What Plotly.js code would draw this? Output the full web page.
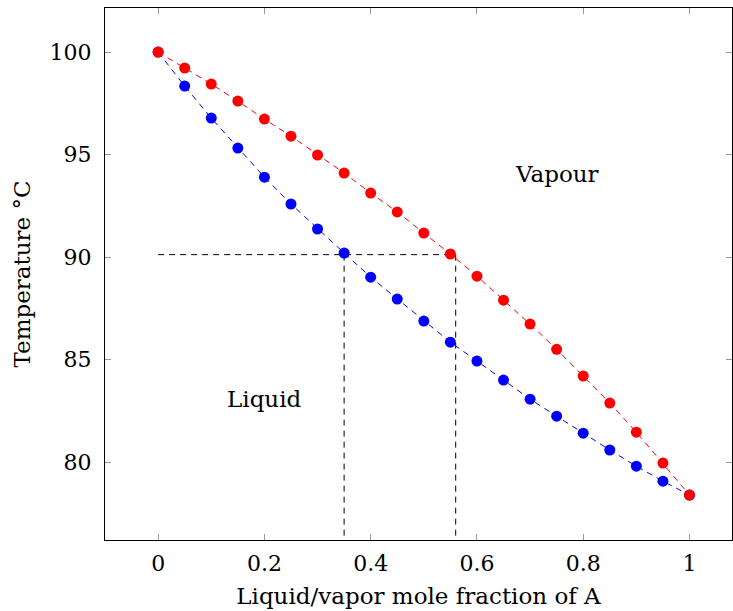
<!DOCTYPE html>
<html><head><meta charset="utf-8">
<script src="https://cdn.plot.ly/plotly-3.0.1.min.js"></script>
<style>html,body{margin:0;padding:0;background:#fff}#chart{width:733px;height:611px}</style>
</head><body><div id="chart"></div>
<script>
const moleFraction = [0,0.05,0.1,0.15,0.2,0.25,0.3,0.35,0.4,0.45,0.5,0.55,0.6,0.65,0.7,0.75,0.8,0.85,0.9,0.95,1.0];
const liquidTemp = [100,98.34,96.78,95.32,93.9,92.59,91.37,90.2,89.02,87.95,86.88,85.85,84.93,84.0,83.07,82.24,81.41,80.59,79.8,79.07,78.39];
const vapourTemp = [100,99.22,98.44,97.61,96.73,95.9,94.98,94.1,93.12,92.2,91.17,90.15,89.07,87.9,86.73,85.5,84.2,82.88,81.46,79.95,78.39];
const tieX = [0, 0.56];
const tieY = [90.12, 90.12];
const liqLineX = [0.35, 0.35];
const vapLineX = [0.56, 0.56];
const dropY = [90.12, 76.2];
const labels = [{text:'Vapour', x:0.75, y:94.05},{text:'Liquid', x:0.2, y:83.07}];
const xTicks = [0,0.2,0.4,0.6,0.8,1];
const xTickText = ['0','0.2','0.4','0.6','0.8','1'];
const yTicks = [80,85,90,95,100];

const FONT = 'DejaVu Serif, serif';
const FS = 22;
const FT = 23;
const dash = {color:'#000', width:1, dash:'6px,5px'};
const traces = [
  {x:tieX, y:tieY, mode:'lines', line:dash, hoverinfo:'skip'},
  {x:liqLineX, y:dropY, mode:'lines', line:dash, hoverinfo:'skip'},
  {x:vapLineX, y:dropY, mode:'lines', line:dash, hoverinfo:'skip'},
  {x:moleFraction, y:liquidTemp, mode:'lines+markers', line:{color:'#0000ff', width:1, dash:'6px,5px'}, marker:{color:'#0000ff', size:11}},
  {x:moleFraction, y:vapourTemp, mode:'lines+markers', line:{color:'#ff0000', width:1, dash:'6px,5px'}, marker:{color:'#ff0000', size:11}}
];
const axisCommon = {showgrid:false, zeroline:false, showline:true, linecolor:'#000', linewidth:1, mirror:'ticks', ticks:'inside', ticklen:6, tickcolor:'#999', tickwidth:1, tickfont:{family:FONT, size:FS, color:'#000'}};
const layout = {
  width:733, height:611, margin:{l:105, r:1, t:8, b:71},
  paper_bgcolor:'#fff', plot_bgcolor:'#fff', showlegend:false,
  font:{family:FONT, color:'#000'},
  xaxis:Object.assign({}, axisCommon, {range:[-0.1,1.08], tickvals:xTicks, ticktext:xTickText, ticklabelstandoff:4,
    title:{text:'Liquid/vapor mole fraction of A', font:{family:FONT, size:FT, color:'#000'}, standoff:12}}),
  yaxis:Object.assign({}, axisCommon, {range:[76.2,102.15], tickvals:yTicks, ticklabelstandoff:8,
    title:{text:'Temperature °C', font:{family:FONT, size:FT, color:'#000'}, standoff:12}}),
  annotations: labels.map(l => ({x:l.x, y:l.y, text:l.text, showarrow:false, font:{family:FONT, size:FT, color:'#000'}}))
};
Plotly.newPlot('chart', traces, layout, {staticPlot:true, displayModeBar:false});
</script></body></html>
